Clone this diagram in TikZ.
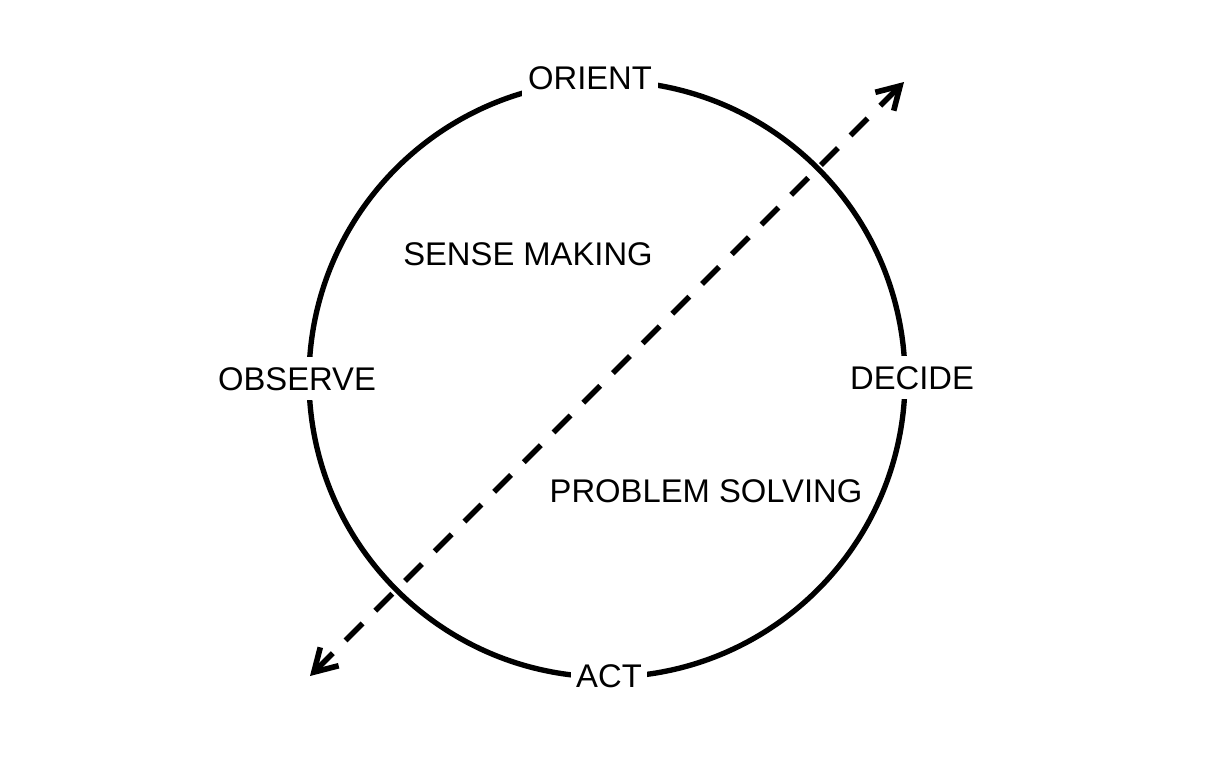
\documentclass[tikz,border=0pt]{standalone}
\usepackage{fontspec}
\setmainfont{Liberation Sans}
\usetikzlibrary{arrows.meta}

\begin{document}
\begin{tikzpicture}[x=0.025cm,y=-0.025cm,>={Straight Barb[length=5.5mm,width=6.5mm]},
    phase/.style={fill=white,inner xsep=4pt,inner ysep=7pt,anchor=base,font=\fontsize{23.3}{27}\selectfont},
    mode/.style={anchor=base,font=\fontsize{23.3}{27}\selectfont}]
  \useasboundingbox (0,0) rectangle (1216,765);
  % loop
  \draw[line width=3.8pt] (607,379) circle[radius=298];
  \node[phase] (orient) at (590,89) {ORIENT};
  \node[phase] (observe) at (297,390) {OBSERVE};
  \node[phase] (decide) at (912,389) {DECIDE};
  \node[phase] (act) at (609,687) {ACT};
  % the two halves
  \node[mode] (sense) at (528,265) {SENSE MAKING};
  \node[mode] (solve) at (706,502) {PROBLEM SOLVING};
  % diagonal
  \coordinate (lo) at (310,676);
  \coordinate (hi) at (904,82);
  \draw[<->,line width=4pt,dash pattern=on 0.6cm off 0.45cm] (lo) -- (hi);
\end{tikzpicture}
\end{document}
